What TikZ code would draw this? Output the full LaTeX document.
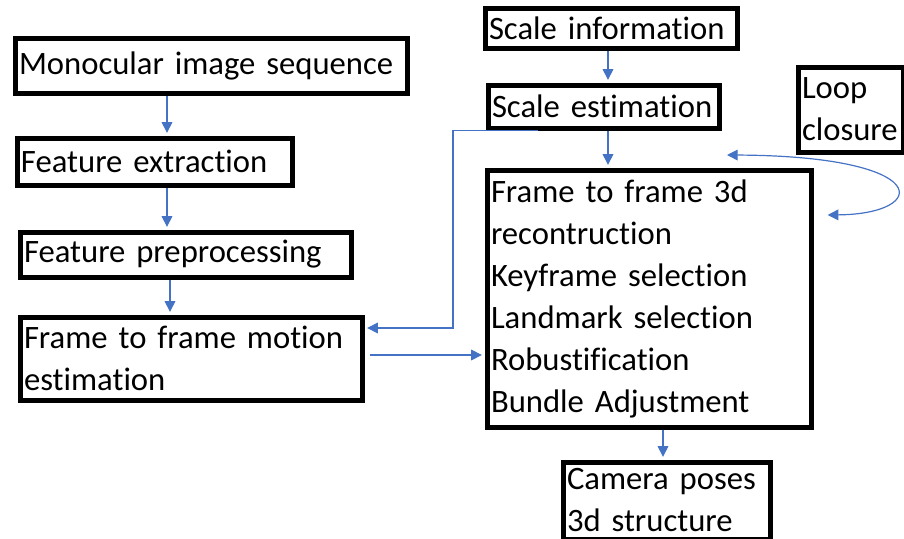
\documentclass[tikz,border=0pt]{standalone}
\usepackage{fontspec}
\setmainfont{Carlito}[Ligatures=NoCommon]
\usetikzlibrary{arrows.meta}
\definecolor{flowblue}{HTML}{4472C4}
\tikzset{
  pbox/.style={draw=black, line width=3.75pt, fill=white, anchor=north west,
    align=left, inner xsep=3pt, inner ysep=0pt,
    font=\fontsize{24.5}{31.5}\selectfont,
    execute at begin node={\hyphenpenalty=10000\relax}},
  flow/.style={draw=flowblue, line width=0.9pt,
    -{Triangle[length=8pt,width=8pt]}, shorten >=2pt}
}
\begin{document}
\begin{tikzpicture}[x=0.75pt,y=-0.75pt]
\useasboundingbox (0,0) rectangle (904,539);

\node[pbox, text width=288pt, minimum height=41.25pt] (mono) at (12.5,35.5) {Monocular image sequence};
\node[pbox, text width=200.25pt, minimum height=35.25pt] (fext) at (14.5,135.5) {Feature extraction};
\node[pbox, text width=242.25pt, minimum height=33.75pt] (fpre) at (17.5,229.5) {Feature preprocessing};
\node[pbox, text width=250.5pt, minimum height=62.25pt] (motion) at (17.5,314.5) {Frame to frame motion\\estimation};

\node[pbox, text width=183pt, minimum height=30pt] (sinfo) at (482.5,5.5) {Scale information};
\node[pbox, text width=167.25pt, minimum height=32.25pt] (sest) at (485.5,82.5) {Scale estimation};
\node[pbox, text width=72.75pt, minimum height=63.75pt] (loop) at (795.5,64.5) {Loop\\closure};
\node[pbox, text width=237pt, minimum height=192.75pt] (recon) at (484.5,167.5) {Frame to frame 3d\\recontruction\\Keyframe selection\\Landmark selection\\Robustification\\Bundle Adjustment};
\node[pbox, text width=149.25pt, minimum height=57.75pt] (cam) at (560.5,459.5) {Camera poses\\3d structure};

\coordinate (lpa) at (727,155);
\coordinate (lpb) at (825,215);

\draw[flow] (mono.south -| 167,0) -- (fext.north -| 167,0);
\draw[flow] (fext.south -| 167,0) -- (fpre.north -| 167,0);
\draw[flow] (fpre.south -| 170,0) -- (motion.north -| 170,0);
\draw[flow] (sinfo.south -| 608,0) -- (sest.north -| 608,0);
\draw[flow] (sest.south -| 608,0) -- (recon.north -| 608,0);
\draw[flow] (sest.south -| 538,0) -| (453,328) -- (motion.east |- 0,328);
\draw[flow] ([xshift=4pt]motion.east |- 0,355) -- (recon.west |- 0,355);
\draw[flow] (recon.south -| 663,0) -- (cam.north -| 663,0);
\draw[flow, {Triangle[length=8pt,width=8pt]}-{Triangle[length=8pt,width=8pt]}] (lpa) .. controls (935,156) and (930,214) .. (lpb);
\end{tikzpicture}
\end{document}
